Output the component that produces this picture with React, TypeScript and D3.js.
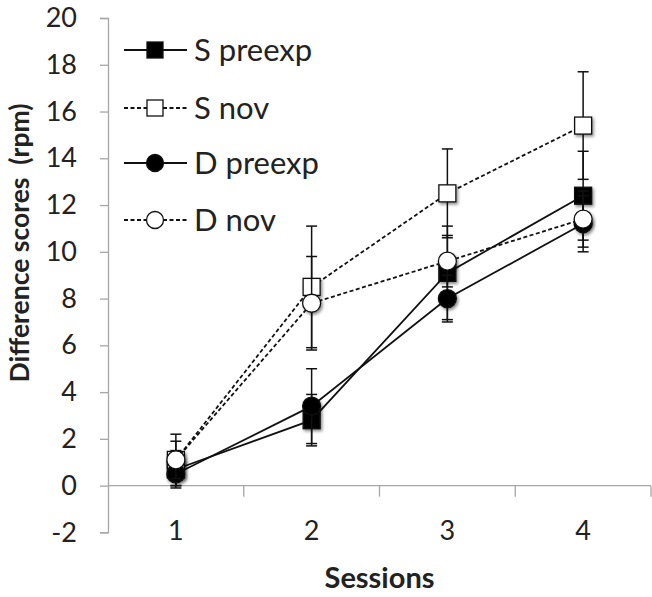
import React, { useEffect, useRef } from "react";
import * as d3 from "d3";

const sessions = ["1", "2", "3", "4"];
const yTicks = [-2, 0, 2, 4, 6, 8, 10, 12, 14, 16, 18, 20];

const seriesNames = ["S preexp", "S nov", "D preexp", "D nov"];
const sPreexp = [0.7, 2.8, 9.1, 12.4];
const sPreexpErr = [0.8, 1.1, 2.0, 1.9];
const sNov = [1.1, 8.5, 12.5, 15.4];
const sNovErr = [1.1, 2.6, 1.9, 2.3];
const dPreexp = [0.5, 3.4, 8.0, 11.2];
const dPreexpErr = [0.5, 1.6, 1.0, 1.2];
const dNov = [1.1, 7.8, 9.6, 11.4];
const dNovErr = [0.8, 2.0, 1.1, 1.2];

const W = 652;
const H = 597;
const FONT = "Lato, 'Open Sans', sans-serif";

export default function App() {
  const ref = useRef<SVGSVGElement>(null);

  useEffect(() => {
    const svg = d3.select(ref.current);
    svg.selectAll("*").remove();

    const left = 108;
    const right = 651;
    const x = d3.scaleBand().domain(sessions).range([left, right]);
    const y = d3.scaleLinear().domain([-2, 20]).range([532.4, 18]);

    const defs = svg.append("defs");
    const f = defs.append("filter").attr("id", "sh").attr("x", "-50%").attr("y", "-50%").attr("width", "200%").attr("height", "200%");
    f.append("feDropShadow").attr("dx", 1.5).attr("dy", 2).attr("stdDeviation", 1.6).attr("flood-color", "#000").attr("flood-opacity", 0.45);

    const axisColor = "#a6a6a6";

    // Y axis
    const gy = svg.append("g").attr("transform", `translate(${left},0)`)
      .call(d3.axisLeft(y).tickValues(yTicks).tickSize(8).tickPadding(23).tickFormat((d: any) => String(d)));
    gy.select(".domain").attr("stroke", axisColor).attr("stroke-width", 1.3);
    gy.selectAll(".tick line").attr("stroke", axisColor).attr("stroke-width", 1.3);
    gy.selectAll(".tick text").attr("font-family", FONT).attr("font-size", 27).attr("fill", "#222");

    // X axis at y=0
    const gx = svg.append("g").attr("transform", `translate(0,${y(0)})`);
    gx.append("line").attr("x1", left).attr("x2", right).attr("stroke", axisColor).attr("stroke-width", 1.3);
    const bounds = sessions.map((s) => (x(s) as number) + x.bandwidth());
    gx.selectAll("line.tk").data(bounds).join("line").attr("class", "tk")
      .attr("x1", (d) => d).attr("x2", (d) => d).attr("y1", 0).attr("y2", 11)
      .attr("stroke", axisColor).attr("stroke-width", 1.3);
    svg.append("g").selectAll("text").data(sessions).join("text")
      .attr("x", (d) => (x(d) as number) + x.bandwidth() / 2)
      .attr("y", 540)
      .attr("text-anchor", "middle")
      .attr("font-family", FONT).attr("font-size", 27).attr("fill", "#222")
      .text((d) => d);

    // Titles
    svg.append("text").attr("x", (left + right) / 2).attr("y", 588).attr("text-anchor", "middle")
      .attr("font-family", FONT).attr("font-size", 29).attr("font-weight", "bold").attr("fill", "#222")
      .text("Sessions");
    svg.append("text").attr("transform", `translate(29,243) rotate(-90)`).attr("text-anchor", "middle")
      .attr("font-family", FONT).attr("font-size", 26.5).attr("font-weight", "bold").attr("fill", "#222")
      .attr("xml:space", "preserve").style("white-space", "pre")
      .text("Difference scores  (rpm)");

    const series = [
      { name: seriesNames[0], vals: sPreexp, err: sPreexpErr, dash: null, shape: "square", fill: "#000" },
      { name: seriesNames[1], vals: sNov, err: sNovErr, dash: "4,2.5", shape: "square", fill: "#fff" },
      { name: seriesNames[2], vals: dPreexp, err: dPreexpErr, dash: null, shape: "circle", fill: "#000" },
      { name: seriesNames[3], vals: dNov, err: dNovErr, dash: "4,2.5", shape: "circle", fill: "#fff" },
    ];
    const cx = (i: number) => (x(sessions[i]) as number) + x.bandwidth() / 2;
    const line = d3.line<number>().x((_, i) => cx(i)).y((d) => y(d));

    function drawMarker(g: any, shape: string, fill: string, px: number, py: number) {
      if (shape === "square") {
        g.append("rect").attr("x", px - 8.5).attr("y", py - 8.5).attr("width", 17).attr("height", 17)
          .attr("fill", fill).attr("stroke", "#111").attr("stroke-width", 1.3).attr("filter", "url(#sh)");
      } else {
        g.append("circle").attr("cx", px).attr("cy", py).attr("r", 9)
          .attr("fill", fill).attr("stroke", "#111").attr("stroke-width", 1.3).attr("filter", "url(#sh)");
      }
    }

    const plot = svg.append("g");
    series.forEach((s) => {
      const g = plot.append("g");
      s.vals.forEach((v, i) => {
        const xx = cx(i);
        g.append("line").attr("x1", xx).attr("x2", xx).attr("y1", y(v - s.err[i])).attr("y2", y(v + s.err[i]))
          .attr("stroke", "#111").attr("stroke-width", 1.5);
        [v - s.err[i], v + s.err[i]].forEach((e) => {
          g.append("line").attr("x1", xx - 5.5).attr("x2", xx + 5.5).attr("y1", y(e)).attr("y2", y(e))
            .attr("stroke", "#111").attr("stroke-width", 1.5);
        });
      });
      g.append("path").attr("d", line(s.vals)).attr("fill", "none").attr("stroke", "#111")
        .attr("stroke-width", 1.8).attr("stroke-dasharray", s.dash);
      s.vals.forEach((v, i) => {
        drawMarker(g, s.shape, s.fill, cx(i), y(v));
      });
    });

    // Legend
    const lg = svg.append("g");
    const legY = [50, 108, 163, 220];
    series.forEach((s, i) => {
      const ly = legY[i];
      lg.append("line").attr("x1", 124).attr("x2", 187).attr("y1", ly).attr("y2", ly)
        .attr("stroke", "#111").attr("stroke-width", 1.8).attr("stroke-dasharray", s.dash);
      if (s.shape === "square") {
        lg.append("rect").attr("x", 155 - 8).attr("y", ly - 8).attr("width", 16).attr("height", 16)
          .attr("fill", s.fill).attr("stroke", "#111").attr("stroke-width", 1.3);
      } else {
        lg.append("circle").attr("cx", 155).attr("cy", ly).attr("r", 8.5)
          .attr("fill", s.fill).attr("stroke", "#111").attr("stroke-width", 1.3);
      }
      lg.append("text").attr("x", 194).attr("y", ly + 11)
        .attr("font-family", FONT).attr("font-size", 31).attr("fill", "#222")
        .text(s.name);
    });
  }, []);

  return (
    <svg ref={ref} width={W} height={H} style={{ position: "absolute", left: 0, top: 0, background: "#fff" }} />
  );
}
